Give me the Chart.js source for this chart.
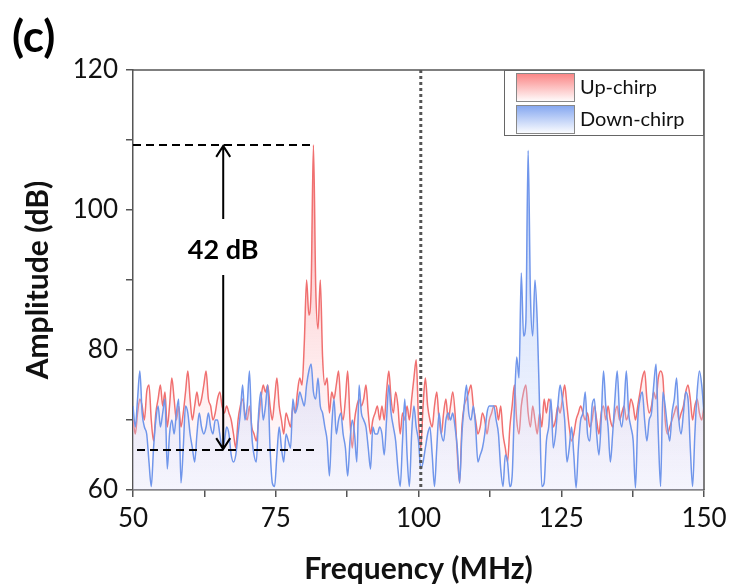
<!DOCTYPE html>
<html lang="en">
<head>
<meta charset="UTF-8">
<title>Up/Down chirp spectrum</title>
<script src="https://cdn.jsdelivr.net/npm/chart.js"></script>
<style>
    body {
        margin: 0;
        background: white;
    }
    #wrap {
        width: 729px;
        height: 587px;
    }
</style>
</head>
<body>
<div id="wrap"><canvas id="spec" width="729" height="587"></canvas></div>
<script>
// frequency grid of the spectra: 50 .. 150 MHz, one point every 0.4 MHz
const FREQ_START = 50;
const FREQ_STEP = 0.4;

// amplitude in dB (10 points = 4 MHz per row)
const upChirp = [
    70, 68, 71, 73, 72, 70, 74, 75, 70, 67,
    71, 73, 75, 72, 74, 69, 72, 76, 73, 70,
    72, 69, 71, 74, 77, 73, 70, 72, 74, 72,
    73, 75, 77, 73, 72, 70, 71, 73, 74, 72,
    71, 72, 71, 70, 68, 66, 70, 72, 73, 71,
    70, 72, 69, 68, 67, 70, 73, 75, 74, 75,
    72, 70, 73, 76, 72, 70, 68, 71, 70, 69,
    72, 71, 74, 76, 75, 81, 90, 85, 89, 109.3,
    89, 83, 90, 79, 75, 76, 71, 74, 73, 75,
    77, 72, 70, 73, 77, 70, 66, 70, 72, 73,
    72, 73, 75, 71, 68, 70, 71, 72, 70, 72,
    70, 74, 77, 73, 71, 74, 72, 68, 71, 70,
    72, 70, 73, 76, 78.6, 70, 66, 72, 76, 72,
    70, 69, 72, 74, 70, 68, 71, 73, 70, 72,
    74, 71, 65, 61, 69, 72, 73, 74, 75, 72,
    70, 68, 69, 71, 70, 68, 70, 71, 72, 72,
    70, 72, 68, 66, 64, 69, 72, 75, 70, 68,
    72, 74, 75, 71, 69, 72, 70, 68, 71, 69,
    73, 71, 73, 72, 69, 70, 72, 71, 73, 75,
    72, 69, 67, 68, 70, 71, 72, 71, 70, 71,
    69, 70, 72, 70, 68, 71, 72, 70, 72, 70,
    69, 71, 72, 70, 71, 72, 70, 71, 73, 72,
    70, 72, 74, 76, 77, 73, 71, 72, 74, 73,
    76, 77, 76, 70, 68, 69, 70, 71, 72, 70,
    71, 72, 74, 75, 73, 70, 72, 73, 71, 70,
    72
];
const downChirp = [
    72, 69, 73, 77, 71, 69, 68, 64, 60.5, 66,
    70, 72, 69, 71, 73, 63, 68, 70, 68, 71,
    73, 61, 66, 72, 71, 68, 66, 64, 68, 71,
    69, 68, 69, 71, 69, 68, 70, 70, 68, 66,
    67, 69, 68, 65, 64, 65, 68, 71, 75, 70,
    72, 77, 68, 65, 64, 71, 74, 70, 72, 75,
    66, 61, 60.5, 65, 69, 66, 64, 68, 67, 66,
    73, 71, 72, 74, 73, 72, 75, 77, 78, 74,
    73, 76, 72, 71, 69, 67, 62, 69, 73, 68,
    70, 71, 68, 66, 62, 67, 70, 68, 64, 75,
    71, 70, 69, 66, 63, 69, 68, 68, 69, 68,
    65, 70, 75, 71, 69, 67, 63, 60.5, 67, 73,
    65, 60.5, 68, 72, 69, 67, 63, 64, 66, 68,
    69, 65, 60.5, 66, 71, 68, 67, 70, 71, 70,
    71, 69, 66, 61, 68, 72, 75, 71, 70, 72,
    69, 64, 65, 66, 68, 71, 72, 72, 72, 70,
    68, 63, 60.5, 65, 64, 60.5, 62, 72, 79, 76,
    91, 82, 84, 108.5, 88, 82, 90, 84, 72, 60.5,
    61, 67, 69, 73, 66, 68, 72, 75, 73, 70,
    64, 66, 69, 65, 60.3, 66, 70, 71, 74, 68,
    67, 72, 73, 68, 65, 70, 77, 72, 69, 64,
    68, 73, 77, 71, 69, 72, 77, 71, 69, 67,
    60.3, 70, 73, 74, 70, 67, 70, 71, 75, 78,
    68, 60.5, 74, 72, 69, 67, 71, 73, 76, 70,
    68, 71, 74, 73, 66, 60.5, 68, 74, 77, 75,
    71
];

const seriesNames = ['Up-chirp', 'Down-chirp'];
const xTicks = [50, 75, 100, 125, 150];
const yTicks = [60, 80, 100, 120];

// annotation values (data units)
const peakLevel = 109.3;
const noiseLevel = 65.7;
const arrowFreq = 65.8;
const centerFreq = 100.4;
const gapLabel = '42 dB';

const FONT = 'Lato, "Open Sans", sans-serif';

const freqs = upChirp.map((_, i) => +(FREQ_START + i * FREQ_STEP).toFixed(1));
const toPoints = arr => arr.map((v, i) => ({ x: freqs[i], y: v }));

function areaGradient(ctx, top, bottom) {
    const { chart } = ctx;
    const area = chart.chartArea;
    if (!area) return top;
    const g = chart.ctx.createLinearGradient(0, chart.scales.y.getPixelForValue(110), 0, area.bottom);
    g.addColorStop(0, top);
    g.addColorStop(1, bottom);
    return g;
}

// dashed levels, arrow, centre line, legend and frame
const decor = {
    id: 'decor',
    afterDatasetsDraw(chart) {
        const { ctx, chartArea: a, scales: { x, y } } = chart;
        ctx.save();

        // dotted centre line
        const cx = x.getPixelForValue(centerFreq);
        ctx.strokeStyle = '#555';
        ctx.lineWidth = 3;
        ctx.setLineDash([3, 3]);
        ctx.beginPath();
        ctx.moveTo(cx, a.top);
        ctx.lineTo(cx, a.bottom);
        ctx.stroke();

        // dashed peak / noise levels
        const yTop = y.getPixelForValue(peakLevel);
        const yBot = y.getPixelForValue(noiseLevel);
        ctx.strokeStyle = '#000';
        ctx.lineWidth = 2;
        ctx.setLineDash([8, 5]);
        ctx.beginPath();
        ctx.moveTo(x.getPixelForValue(50), yTop);
        ctx.lineTo(x.getPixelForValue(81.6), yTop);
        ctx.moveTo(x.getPixelForValue(50.7), yBot);
        ctx.lineTo(x.getPixelForValue(82.3), yBot);
        ctx.stroke();

        // double arrow with label
        const ax = x.getPixelForValue(arrowFreq);
        const yText = y.getPixelForValue(94.3);
        ctx.setLineDash([]);
        ctx.lineWidth = 2;
        ctx.beginPath();
        ctx.moveTo(ax, yTop + 1);
        ctx.lineTo(ax, yText - 31);
        ctx.moveTo(ax, yText + 25);
        ctx.lineTo(ax, yBot - 1);
        ctx.moveTo(ax - 7, yTop + 12);
        ctx.lineTo(ax, yTop + 1);
        ctx.lineTo(ax + 7, yTop + 12);
        ctx.moveTo(ax - 7, yBot - 12);
        ctx.lineTo(ax, yBot - 1);
        ctx.lineTo(ax + 7, yBot - 12);
        ctx.stroke();

        ctx.fillStyle = '#000';
        ctx.font = 'bold 27px ' + FONT;
        ctx.textAlign = 'center';
        ctx.textBaseline = 'middle';
        ctx.fillText(gapLabel, ax, yText);
        ctx.restore();
    },
    afterDraw(chart) {
        const { ctx, chartArea: a } = chart;
        ctx.save();

        // top and right frame
        ctx.strokeStyle = '#555';
        ctx.lineWidth = 1.5;
        ctx.beginPath();
        ctx.moveTo(a.left, a.top);
        ctx.lineTo(a.right, a.top);
        ctx.lineTo(a.right, a.bottom);
        ctx.stroke();

        // legend
        const lx = a.right - 200, ly = a.top;
        ctx.fillStyle = 'white';
        ctx.fillRect(lx, ly, 200, 66);
        ctx.strokeStyle = '#666';
        ctx.lineWidth = 1;
        ctx.strokeRect(lx + 0.5, ly + 0.5, 199, 65);
        const swatches = [['rgb(250,130,130)', seriesNames[0]], ['rgb(130,165,240)', seriesNames[1]]];
        swatches.forEach(([col, name], i) => {
            const sy = ly + 3 + i * 32;
            const g = ctx.createLinearGradient(0, sy, 0, sy + 29);
            g.addColorStop(0, col);
            g.addColorStop(1, 'white');
            ctx.fillStyle = g;
            ctx.fillRect(lx + 12, sy, 59, 29);
            ctx.strokeStyle = '#888';
            ctx.strokeRect(lx + 12.5, sy + 0.5, 58, 28);
            ctx.fillStyle = '#111';
            ctx.font = '20px ' + FONT;
            ctx.textAlign = 'left';
            ctx.textBaseline = 'middle';
            ctx.fillText(name, lx + 76, sy + 15);
        });

        // panel letter
        ctx.fillStyle = '#000';
        ctx.font = 'bold 44px ' + FONT;
        ctx.textAlign = 'left';
        ctx.textBaseline = 'alphabetic';
        ctx.fillText('(c)', 12, 52);
        ctx.restore();
    }
};

new Chart(document.getElementById('spec').getContext('2d'), {
    type: 'line',
    data: {
        datasets: [
            {
                label: seriesNames[0],
                data: toPoints(upChirp),
                borderColor: 'rgb(240,112,112)',
                borderWidth: 1.5,
                backgroundColor: ctx => areaGradient(ctx, 'rgba(248,110,110,0.6)', 'rgba(255,225,235,0.12)'),
                fill: 'start',
                pointRadius: 0,
                cubicInterpolationMode: 'monotone',
                order: 1
            },
            {
                label: seriesNames[1],
                data: toPoints(downChirp),
                borderColor: 'rgb(112,150,235)',
                borderWidth: 1.5,
                backgroundColor: ctx => areaGradient(ctx, 'rgba(120,160,240,0.5)', 'rgba(215,225,255,0.25)'),
                fill: 'start',
                pointRadius: 0,
                cubicInterpolationMode: 'monotone',
                order: 0
            }
        ]
    },
    options: {
        responsive: false,
        animation: false,
        layout: {
            padding: { left: 0, right: 25, top: 70, bottom: 0 }
        },
        plugins: {
            legend: { display: false },
            tooltip: { enabled: false }
        },
        scales: {
            x: {
                type: 'linear',
                min: 50,
                max: 150,
                afterFit: s => { s.height = 97; s.paddingLeft = 0; s.paddingRight = 0; },
                border: { color: '#555', width: 1.5 },
                grid: { drawOnChartArea: false, tickLength: 7, color: '#555', lineWidth: 1.5 },
                ticks: {
                    stepSize: 12.5,
                    padding: 6,
                    color: '#111',
                    font: { family: FONT, size: 26 },
                    maxRotation: 0,
                    callback: v => xTicks.includes(v) ? v : ''
                },
                title: {
                    display: true,
                    text: 'Frequency (MHz)',
                    color: '#111',
                    font: { family: FONT, size: 30, weight: 'bold' },
                    padding: { top: 0, bottom: 0 }
                }
            },
            y: {
                min: 60,
                max: 120,
                afterFit: s => { s.width = 133; },
                border: { color: '#555', width: 1.5 },
                grid: { drawOnChartArea: false, tickLength: 7, color: '#555', lineWidth: 1.5 },
                ticks: {
                    stepSize: 10,
                    padding: 8,
                    color: '#111',
                    font: { family: FONT, size: 26 },
                    callback: v => yTicks.includes(v) ? v : ''
                },
                title: {
                    display: true,
                    text: 'Amplitude (dB)',
                    color: '#111',
                    font: { family: FONT, size: 30, weight: 'bold' },
                    padding: { top: 20, bottom: 0 }
                }
            }
        }
    },
    plugins: [decor]
});
</script>
</body>
</html>
